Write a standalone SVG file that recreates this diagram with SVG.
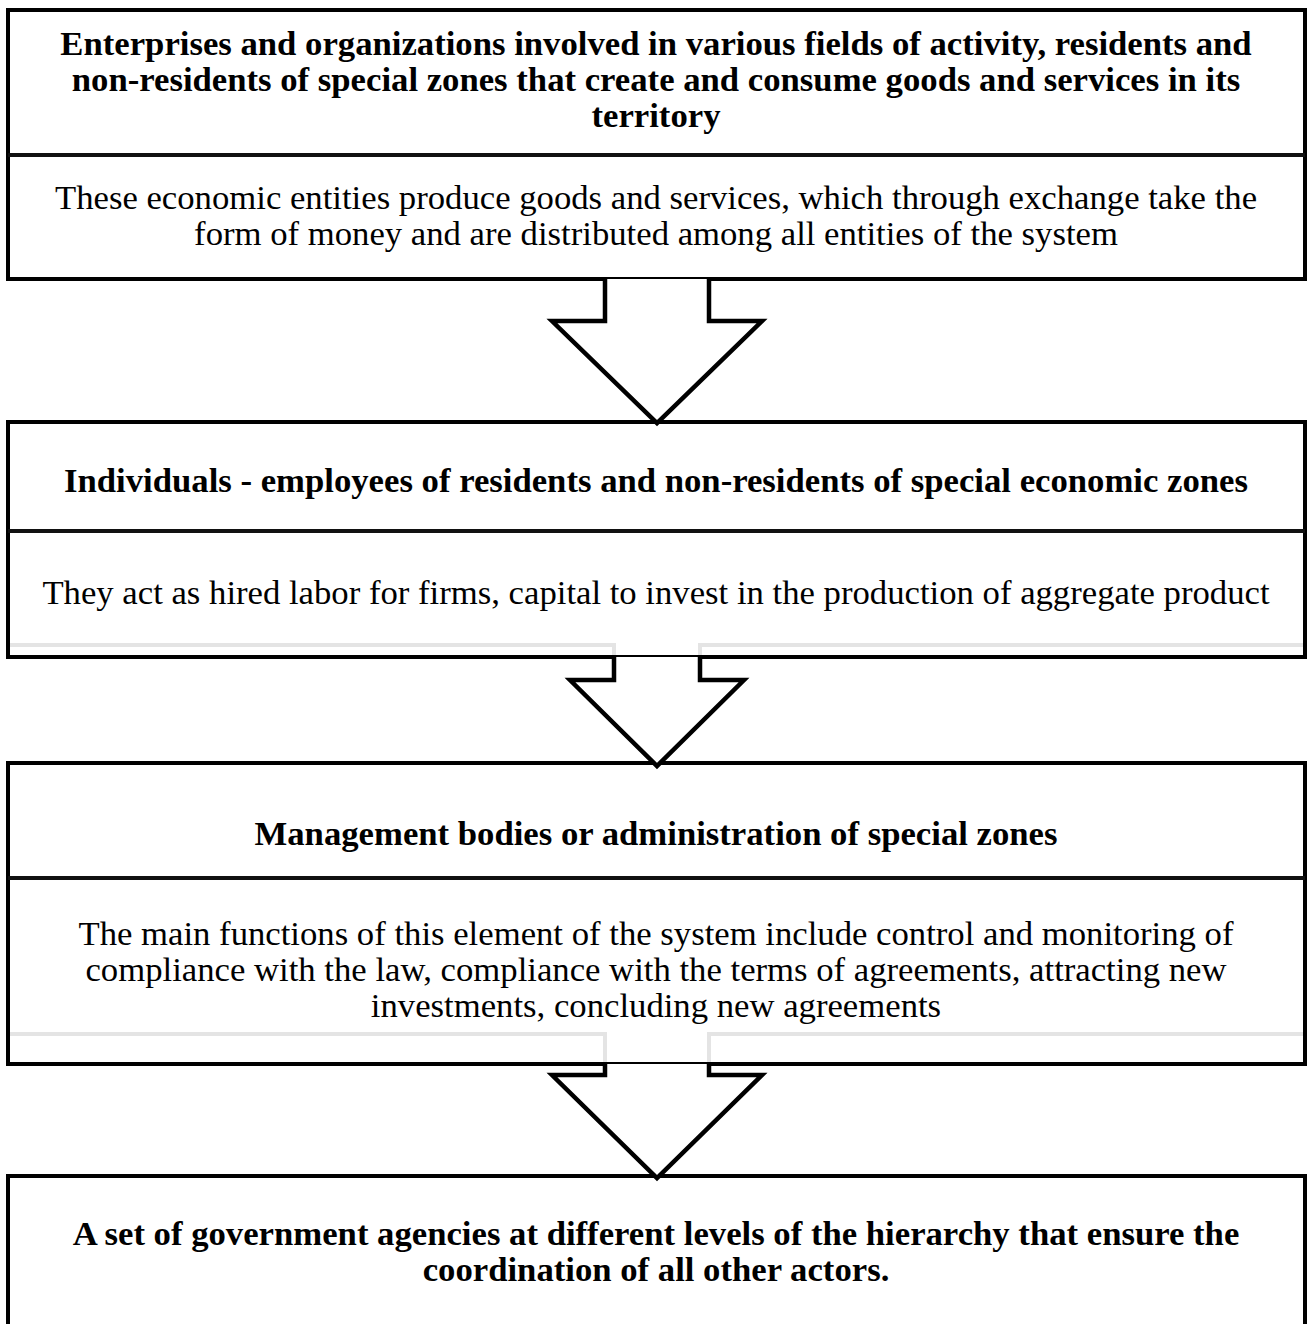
<svg xmlns="http://www.w3.org/2000/svg" width="1311" height="1324" viewBox="0 0 1311 1324">
  <style>
    .frame { fill: #ffffff; stroke: #000000; stroke-width: 4; }
    .rule { stroke: #111111; stroke-width: 4; fill: none; }
    .ghost { stroke: #e4e4e4; stroke-width: 4; fill: none; }
    .arrow { fill: #ffffff; stroke: #000000; stroke-width: 4.5; stroke-linejoin: miter; }
    .title { font-family: "Liberation Serif", "Times New Roman", serif; font-weight: bold; font-size: 34.7px; text-anchor: middle; fill: #000000; }
    .body { font-family: "Liberation Serif", "Times New Roman", serif; font-size: 34.7px; text-anchor: middle; fill: #000000; }
  </style>

  <rect width="1311" height="1324" fill="#ffffff"/>

  <!-- Box 1: enterprises and organizations -->
  <g id="node-enterprises">
    <rect class="frame" x="8" y="10" width="1297" height="269"/>
    <line class="rule" x1="8" y1="155" x2="1305" y2="155"/>
    <text class="title" x="656" y="55">Enterprises and organizations involved in various fields of activity, residents and</text>
    <text class="title" x="656" y="91">non-residents of special zones that create and consume goods and services in its</text>
    <text class="title" x="656" y="127">territory</text>
    <text class="body" x="656" y="209">These economic entities produce goods and services, which through exchange take the</text>
    <text class="body" x="656" y="245">form of money and are distributed among all entities of the system</text>
  </g>

  <!-- Box 2: individuals -->
  <g id="node-individuals">
    <rect class="frame" x="8" y="422" width="1297" height="235"/>
    <line class="rule" x1="8" y1="531" x2="1305" y2="531"/>
    <polyline class="ghost" points="10,645 614,645 614,655"/>
    <polyline class="ghost" points="700,655 700,645 1303,645"/>
    <text class="title" x="656" y="492">Individuals - employees of residents and non-residents of special economic zones</text>
    <text class="body" x="656" y="604">They act as hired labor for firms, capital to invest in the production of aggregate product</text>
  </g>

  <!-- Box 3: management bodies -->
  <g id="node-management">
    <rect class="frame" x="8" y="763" width="1297" height="301"/>
    <line class="rule" x1="8" y1="878" x2="1305" y2="878"/>
    <polyline class="ghost" points="10,1034 605,1034 605,1062"/>
    <polyline class="ghost" points="709,1062 709,1034 1303,1034"/>
    <text class="title" x="656" y="845">Management bodies or administration of special zones</text>
    <text class="body" x="656" y="945">The main functions of this element of the system include control and monitoring of</text>
    <text class="body" x="656" y="981">compliance with the law, compliance with the terms of agreements, attracting new</text>
    <text class="body" x="656" y="1017">investments, concluding new agreements</text>
  </g>

  <!-- Box 4: government agencies (runs past the lower edge) -->
  <g id="node-government">
    <rect class="frame" x="8" y="1176" width="1297" height="200"/>
    <text class="title" x="656" y="1245">A set of government agencies at different levels of the hierarchy that ensure the</text>
    <text class="title" x="656" y="1281">coordination of all other actors.</text>
  </g>

  <!-- Block arrows between the levels -->
  <g id="connectors">
    <path class="arrow" d="M605,279 L605,321 L552,321 L657,423 L762,321 L709,321 L709,279"/>
    <path class="arrow" d="M614,657 L614,680 L570,680 L657,766 L744,680 L700,680 L700,657"/>
    <path class="arrow" d="M605,1064 L605,1075 L552,1075 L657,1178 L762,1075 L709,1075 L709,1064"/>
  </g>
</svg>
